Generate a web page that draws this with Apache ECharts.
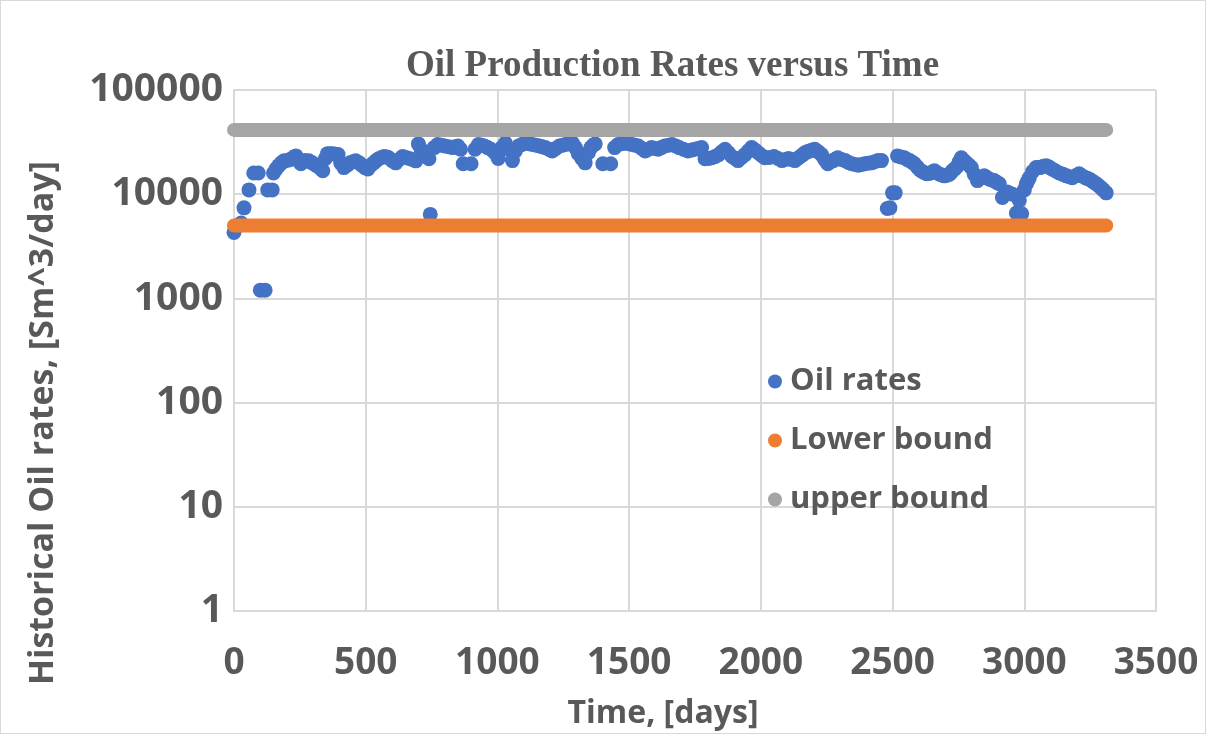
<!DOCTYPE html>
<html lang="en">
<head>
    <meta charset="UTF-8">
    <title>Oil Production Rates versus Time</title>
    <script src="https://cdn.jsdelivr.net/npm/echarts@6/dist/echarts.min.js"></script>
    <style>
        body { margin: 0; background: #fff; }
        #main { width: 1206px; height: 734px; box-sizing: border-box; border: 1px solid #d9d9d9; }
    </style>
</head>
<body>
<div id="main"></div>

<script type="text/javascript">
    // time in days and historical oil rates, Sm^3/day
    var days = [0, 15, 27, 38, 57, 75, 92, 100, 118, 128, 145, 150, 160, 170, 180, 190, 205, 215, 225, 235,
        245, 254, 262, 270, 284, 297, 310, 325, 337, 347, 355, 365, 375, 385, 395, 405, 417, 430, 440, 452,
        462, 475, 485, 497, 508, 520, 530, 540, 549, 560, 570, 580, 587, 600, 614, 627, 640, 652, 665, 678,
        690, 700, 710, 720, 730, 740, 745, 760, 773, 787, 800, 815, 830, 840, 850, 860, 870, 900, 915, 928,
        940, 950, 963, 975, 990, 1003, 1017, 1030, 1043, 1057, 1068, 1080, 1093, 1105, 1120, 1133, 1147, 1160, 1170, 1182,
        1195, 1208, 1222, 1235, 1247, 1258, 1272, 1285, 1296, 1307, 1320, 1333, 1345, 1355, 1363, 1371, 1400, 1430, 1445, 1458,
        1472, 1485, 1498, 1511, 1523, 1535, 1548, 1561, 1573, 1585, 1598, 1610, 1622, 1635, 1650, 1663, 1677, 1690, 1706, 1723,
        1737, 1750, 1762, 1775, 1788, 1801, 1814, 1827, 1840, 1852, 1864, 1877, 1890, 1902, 1913, 1927, 1940, 1952, 1965, 1978,
        1990, 2003, 2015, 2032, 2050, 2065, 2080, 2093, 2105, 2117, 2129, 2140, 2150, 2160, 2167, 2176, 2185, 2195, 2205, 2218,
        2230, 2242, 2254, 2265, 2275, 2284, 2292, 2306, 2320, 2332, 2345, 2358, 2370, 2382, 2394, 2407, 2420, 2432, 2445, 2458,
        2480, 2490, 2500, 2510, 2519, 2532, 2545, 2555, 2565, 2575, 2583, 2594, 2605, 2617, 2629, 2637, 2645, 2652, 2659, 2670,
        2680, 2690, 2697, 2706, 2715, 2721, 2727, 2736, 2745, 2753, 2761, 2770, 2780, 2790, 2799, 2810, 2822, 2835, 2848, 2857,
        2866, 2876, 2886, 2895, 2905, 2917, 2926, 2935, 2945, 2955, 2970, 2981, 2990, 3000, 3008, 3014, 3019, 3032, 3045, 3052,
        3060, 3072, 3083, 3094, 3105, 3119, 3133, 3147, 3160, 3171, 3182, 3195, 3208, 3219, 3230, 3238, 3246, 3255, 3265, 3275,
        3284, 3292, 3300, 3311];
    var oilRates = [4300, 5000, 5300, 7400, 11000, 16000, 16000, 1200, 1200, 11000, 11000, 16000, 17500, 18800, 20000, 20900, 21200, 21500, 22500, 23300,
        21500, 19600, 20500, 21000, 20900, 20000, 19000, 18000, 16800, 22000, 24500, 24500, 24500, 24200, 24000, 20000, 18000, 19000, 20000, 20500,
        20900, 20000, 19000, 18000, 17500, 19000, 20000, 21000, 21900, 22500, 23000, 22800, 22400, 21000, 20000, 21500, 23000, 22500, 22000, 21500,
        20900, 30400, 27000, 25000, 23000, 21900, 6400, 28000, 30000, 29500, 29000, 28500, 28000, 28500, 29000, 27000, 19600, 19600, 27000, 30000,
        29500, 29000, 28000, 27000, 25000, 22000, 28000, 31000, 27000, 21000, 26000, 29000, 30000, 31000, 30500, 30000, 29500, 29000, 28500, 28000,
        27000, 26000, 27500, 29000, 29500, 30000, 30500, 31000, 28000, 24500, 22000, 20000, 25000, 28000, 29500, 30400, 19600, 19600, 28000, 30000,
        30500, 31000, 30500, 30000, 29500, 29000, 27500, 26000, 27000, 28000, 27500, 27000, 28000, 29000, 29500, 30000, 29000, 28000, 27000, 26000,
        26500, 27000, 27500, 28000, 21900, 22000, 22400, 23000, 24000, 25500, 27000, 25000, 23000, 22000, 21000, 22500, 24000, 26000, 28000, 26500,
        25000, 23500, 22400, 22500, 23000, 22000, 21000, 21500, 22000, 21500, 21000, 22000, 23000, 24000, 25000, 25500, 26000, 26500, 27000, 25500,
        24000, 21500, 19600, 20500, 21000, 21800, 22400, 21500, 21000, 20200, 19600, 19300, 19000, 19300, 19600, 19800, 20000, 20500, 21000, 21000,
        7300, 7400, 10300, 10300, 23300, 22800, 22400, 21500, 21000, 20200, 19600, 18200, 17000, 16300, 15700, 15800, 16000, 16400, 16800, 16000,
        15500, 15200, 15000, 15200, 15500, 16000, 16800, 17500, 18500, 20500, 22400, 21000, 20000, 19000, 18000, 15500, 13500, 14300, 15000, 14500,
        14000, 13700, 13500, 13000, 12600, 9300, 10000, 10500, 10200, 10000, 6600, 8700, 6500, 11000, 12600, 13500, 14400, 16500, 18000, 18000,
        18000, 18500, 18800, 18200, 17500, 16700, 16000, 15500, 15000, 14700, 14400, 15000, 15700, 15000, 14500, 14200, 14000, 13500, 13000, 12500,
        12000, 11500, 11000, 10300];

    // bounds: constant rates over the same period
    var boundDays = [0, 3311];
    var lowerBound = [5000, 5000];
    var upperBound = [41400, 41400];

    var xTicks = [0, 500, 1000, 1500, 2000, 2500, 3000, 3500];

    function pairs(xs, ys) {
        return xs.map(function (x, i) { return [x, ys[i]]; });
    }

    var labelFont = '"Open Sans", sans-serif';
    var myChart = echarts.init(document.getElementById('main'));

    var option = {
        animation: false,
        title: {
            text: 'Oil Production Rates versus Time',
            left: 400,
            top: 42,
            textStyle: {
                fontFamily: '"Liberation Serif", serif',
                fontWeight: 'bold',
                fontSize: 37,
                color: '#595959'
            }
        },
        legend: {
            orient: 'vertical',
            left: 762,
            top: 360,
            itemWidth: 14,
            itemHeight: 14,
            itemGap: 28,
            textStyle: {
                fontFamily: labelFont,
                fontWeight: 'bold',
                fontSize: 31,
                lineHeight: 31,
                color: '#595959',
                padding: [0, 0, 0, 3]
            },
            data: [
                {name: 'Oil rates', icon: 'circle'},
                {name: 'Lower bound', icon: 'circle'},
                {name: 'upper bound', icon: 'circle'}
            ]
        },
        grid: {
            left: 233,
            right: 49,
            top: 89,
            bottom: 122
        },
        xAxis: {
            type: 'value',
            min: xTicks[0],
            max: xTicks[xTicks.length - 1],
            interval: 500,
            axisLine: {lineStyle: {color: '#d9d9d9', width: 2}},
            axisTick: {show: false},
            splitLine: {lineStyle: {color: '#d9d9d9', width: 2}},
            axisLabel: {
                margin: 34,
                fontFamily: labelFont,
                fontWeight: 'bold',
                fontSize: 37,
                color: '#595959',
                formatter: function (v) { return String(v); }
            }
        },
        yAxis: {
            type: 'log',
            logBase: 10,
            min: 1,
            max: 100000,
            axisLine: {show: true, lineStyle: {color: '#d9d9d9', width: 2}},
            axisTick: {show: false},
            splitLine: {lineStyle: {color: '#d9d9d9', width: 2}},
            axisLabel: {
                margin: 11,
                fontFamily: labelFont,
                fontWeight: 'bold',
                fontSize: 39,
                color: '#595959',
                formatter: function (v) { return String(v); }
            }
        },
        graphic: [
            {
                type: 'text',
                x: 42,
                y: 422,
                rotation: Math.PI / 2,
                style: {
                    text: 'Historical Oil rates, [Sm^3/day]',
                    font: 'bold 34px "Open Sans", sans-serif',
                    fill: '#595959',
                    align: 'center',
                    verticalAlign: 'middle'
                }
            },
            {
                type: 'text',
                x: 662,
                y: 713,
                style: {
                    text: 'Time, [days]',
                    font: 'bold 32px "Open Sans", sans-serif',
                    fill: '#595959',
                    align: 'center',
                    verticalAlign: 'middle'
                }
            }
        ],
        series: [
            {
                name: 'Oil rates',
                type: 'scatter',
                symbolSize: 15,
                itemStyle: {color: '#4472C4', opacity: 1},
                data: pairs(days, oilRates)
            },
            {
                name: 'Lower bound',
                type: 'line',
                showSymbol: false,
                symbol: 'circle',
                itemStyle: {color: '#ED7D31'},
                lineStyle: {color: '#ED7D31', width: 14, cap: 'round'},
                data: pairs(boundDays, lowerBound)
            },
            {
                name: 'upper bound',
                type: 'line',
                showSymbol: false,
                symbol: 'circle',
                itemStyle: {color: '#A5A5A5'},
                lineStyle: {color: '#A5A5A5', width: 14, cap: 'round'},
                data: pairs(boundDays, upperBound)
            }
        ]
    };

    myChart.setOption(option);
</script>
</body>
</html>
